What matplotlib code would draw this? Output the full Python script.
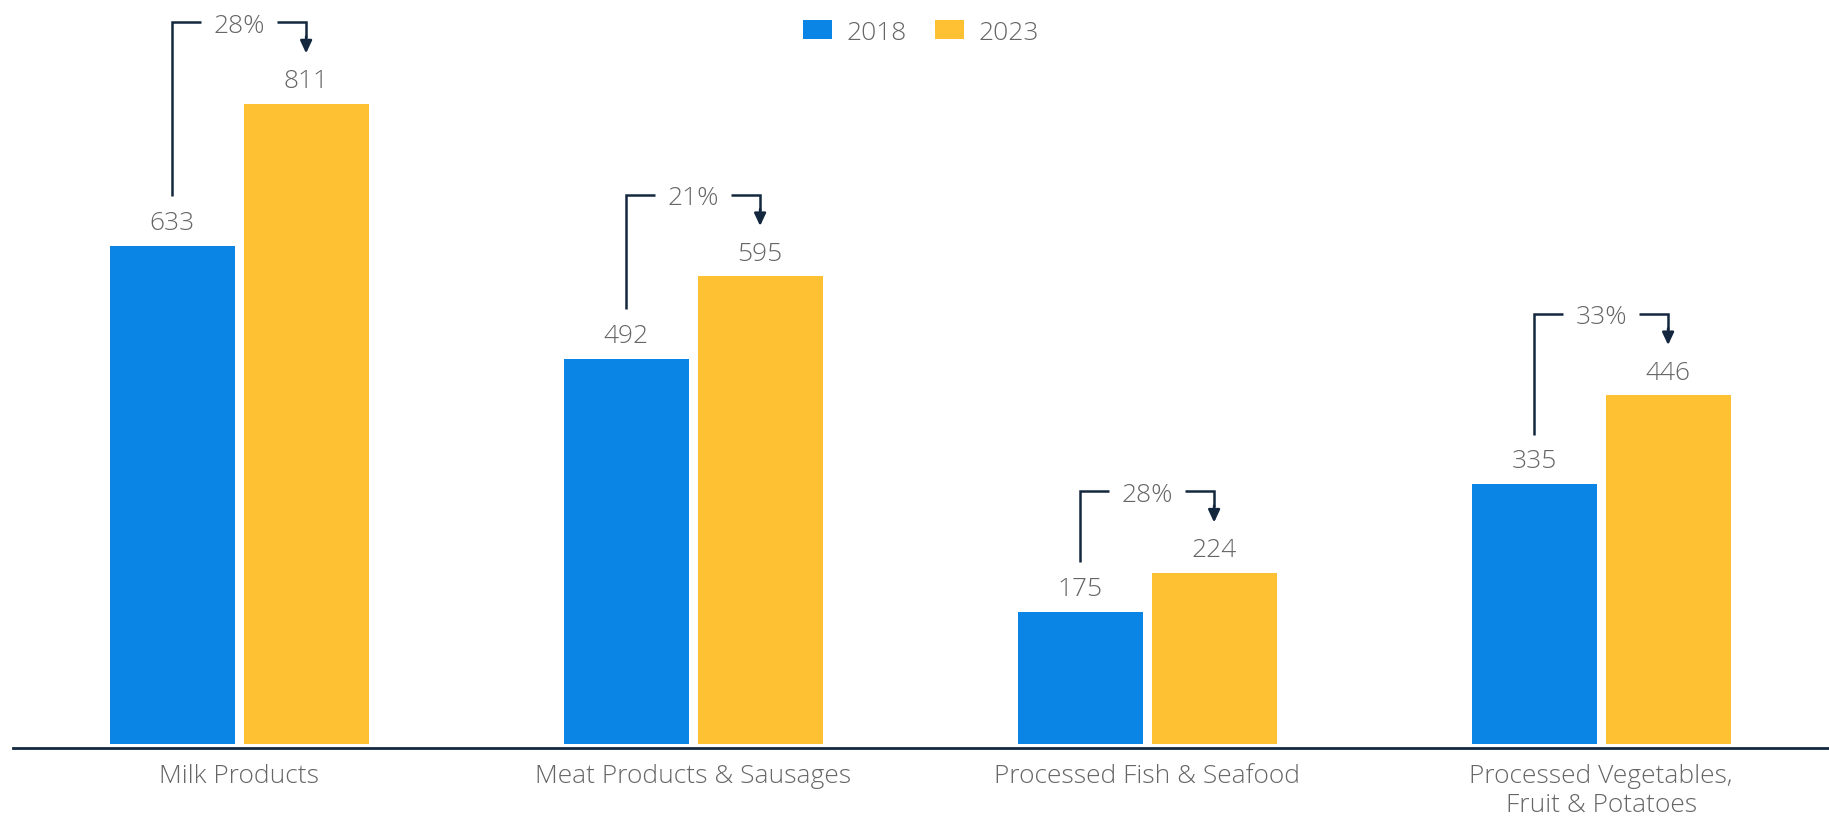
import matplotlib
matplotlib.use("Agg")
import matplotlib.pyplot as plt
import numpy as np

categories = ["Milk Products", "Meat Products & Sausages",
              "Processed Fish & Seafood", "Processed Vegetables,\nFruit & Potatoes"]
years = ["2018", "2023"]
values_2018 = [633, 492, 175, 335]
values_2023 = [811, 595, 224, 446]
growth_labels = ["28%", "21%", "28%", "33%"]

BLUE = "#0b85e5"
YELLOW = "#fec134"
NAVY = "#13283f"
TEXT = "#666666"

plt.rcParams["font.family"] = ["Open Sans", "DejaVu Sans"]

fig = plt.figure(figsize=(18.29, 8.2), dpi=100)
ax = fig.add_axes([13 / 1829, 75 / 820, 1 - 13 / 1829, 745 / 820])

x = np.arange(len(categories))
width = 0.275
offset = 0.1476

b1 = ax.bar(x - offset, values_2018, width, color=BLUE, label=years[0], zorder=2)
b2 = ax.bar(x + offset, values_2023, width, color=YELLOW, label=years[1], zorder=2)

ax.set_xlim(-0.498, 3.502)
ax.set_ylim(9.8, 942)

fs = 19
for xs, vals in ((x - offset, values_2018), (x + offset, values_2023)):
    for xi, v in zip(xs, vals):
        ax.annotate(f"{v}", (xi, v), xytext=(0, 12), textcoords="offset points",
                    ha="center", va="baseline", fontsize=fs, color=TEXT,
                    fontweight="light")

# growth brackets from the 2018 bar to the 2023 bar
gap = 0.0837
for xi, v0, v1, lab in zip(x, values_2018, values_2023, growth_labels):
    xl, xr = xi - offset, xi + offset
    ytop = max(v0, v1) + 102
    ax.plot([xl, xl, xi - gap], [v0 + 62, ytop, ytop], color=NAVY, lw=1.8,
            solid_joinstyle="miter", solid_capstyle="butt", zorder=3)
    ax.plot([xi + gap, xr, xr], [ytop, ytop, v1 + 82], color=NAVY, lw=1.8,
            solid_joinstyle="miter", solid_capstyle="butt", zorder=3)
    ax.annotate("", xy=(xr, v1 + 63), xytext=(xr, v1 + 84),
                arrowprops=dict(arrowstyle="-|>,head_length=0.75,head_width=0.35",
                                color=NAVY, lw=1.8, shrinkA=0, shrinkB=0))
    ax.text(xi, ytop, lab, ha="center", va="center_baseline", fontsize=fs,
            color=TEXT, fontweight="light")

for s in ("top", "right", "left"):
    ax.spines[s].set_visible(False)
ax.spines["bottom"].set_color(NAVY)
ax.spines["bottom"].set_linewidth(2)
ax.spines["bottom"].set_position(("outward", 3))
ax.set_yticks([])
ax.set_xticks(x)
ax.set_xticklabels(categories, fontsize=fs, color=TEXT, fontweight="light",
                   linespacing=1.2)
ax.tick_params(axis="x", length=0, pad=11)

fig.legend(handles=[b1, b2], labels=years, loc="center", ncol=2,
           bbox_to_anchor=(921 / 1829, 1 - 33 / 820), frameon=False,
           prop=dict(size=fs, weight="light"), labelcolor=TEXT,
           handlelength=1.1, handleheight=0.76, handletextpad=0.57,
           columnspacing=1.06, borderpad=0)

fig.savefig("out.png", dpi=100)
